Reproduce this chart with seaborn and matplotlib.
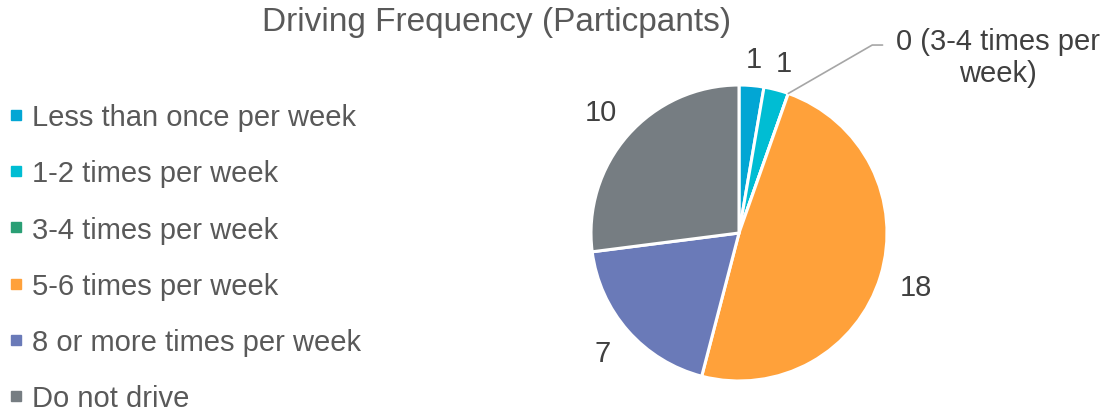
import numpy as np
import matplotlib
matplotlib.use("Agg")
import matplotlib.pyplot as plt
from matplotlib.lines import Line2D
import seaborn as sns

# data
categories = ["Less than once per week", "1-2 times per week", "3-4 times per week",
              "5-6 times per week", "8 or more times per week", "Do not drive"]
participants = [1, 1, 0, 18, 7, 10]
colors = ["#02A6D4", "#00BDD3", "#2A9F75", "#FFA13A", "#6A7AB8", "#767D82"]

sns.set_theme(style="white")
plt.rcParams["font.family"] = ["Liberation Sans", "DejaVu Sans"]

W, H = 1109, 414
fig = plt.figure(figsize=(W / 100, H / 100), dpi=100)
ax = fig.add_axes([0, 0, 1, 1])

wedges, _ = ax.pie(participants, colors=colors, startangle=90, counterclock=False,
                   radius=1, wedgeprops=dict(edgecolor="white", linewidth=2.2))

# pixel mapping: centre at (739, 234), radius 148 px
cx, cy, R = 739, 234, 148
ax.set_xlim(-cx / R, (W - cx) / R)
ax.set_ylim(-(H - cy) / R, cy / R)
ax.set_aspect("auto")
ax.axis("off")

# value labels outside the wedges
label_dist = [1.18, 1.19, None, 1.25, 1.23, 1.24]
for w, v, d in zip(wedges, participants, label_dist):
    if d is None:
        continue
    ang = np.deg2rad((w.theta1 + w.theta2) / 2)
    ax.text(d * np.cos(ang), d * np.sin(ang), str(v), ha="center", va="center",
            fontsize=21, color="#404040")

# zero slice with leader line
zw = wedges[2]
a0 = np.deg2rad(zw.theta1)
ex, ey = np.cos(a0), np.sin(a0)
ax.plot([ex, 0.90, 0.97], [ey, 1.27, 1.27], color="#A6A6A6", lw=1.2)
ax.text(1.75, 1.19, f"{participants[2]} (3-4 times per\nweek)", ha="center", va="center",
        fontsize=21, color="#404040", linespacing=1.17)

fig.text(497 / W, 1 - 23 / H, "Driving Frequency (Particpants)", ha="center", va="center",
         fontsize=24, color="#595959")

handles = [Line2D([0], [0], marker="s", linestyle="none", markersize=6.5,
                  markerfacecolor=c, markeredgecolor=c) for c in colors]
fig.legend(handles, categories, loc="upper left", bbox_to_anchor=(7 / W, 1 - 104 / H),
           frameon=False, fontsize=21, labelcolor="#595959", handlelength=0.6,
           handletextpad=0.25, labelspacing=0.97, borderpad=0, borderaxespad=0)

fig.savefig("out.png", dpi=100)
